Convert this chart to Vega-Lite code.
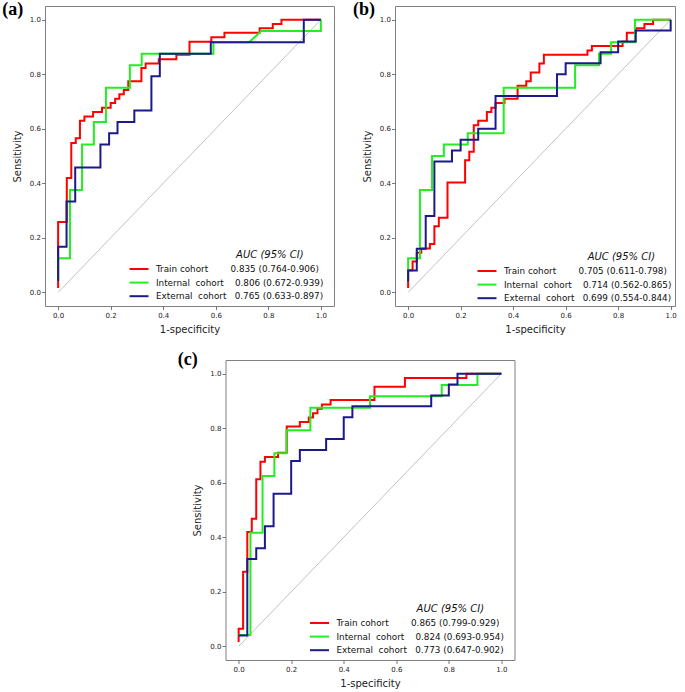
{
"$schema": "https://vega.github.io/schema/vega-lite/v6.json",
"background": "white",
"padding": {"left": 1, "top": 0, "right": 0, "bottom": 0},
"spacing": 15,
"resolve": {"scale": {"color": "independent"}, "legend": {"color": "independent"}},
"config": {
  "font": "DejaVu Sans",
  "view": {"stroke": "#808080", "strokeWidth": 1},
  "axis": {"grid": false, "domain": false, "tickColor": "#555", "tickSize": 3.5, "tickWidth": 0.8, "labelFontSize": 7, "labelColor": "#222", "titleFontSize": 10, "titleFontWeight": "normal", "titleColor": "#222", "labelPadding": 2},
  "axisX": {"titlePadding": 6},
  "axisY": {"titlePadding": 7, "labelPadding": 1},
  "legend": {"orient": "bottom-right", "offset": 5, "symbolType": "M-2,0L2,0", "symbolSize": 90, "symbolStrokeWidth": 2, "labelFontSize": 8.8, "labelColor": "#111", "labelOffset": 11, "labelLimit": 400, "rowPadding": 2.6, "titleFontSize": 10, "titleFontWeight": "normal", "titleFontStyle": "italic", "titleColor": "#111", "titleAnchor": "end", "titlePadding": 3, "titleLimit": 400}
},
"datasets": {
"diag": [{"fpr": 0, "tpr": 0}, {"fpr": 1, "tpr": 1}],
"a": [
{"cohort":"Train","step":1,"fpr":0,"tpr":0.016},{"cohort":"Train","step":2,"fpr":0,"tpr":0.258},{"cohort":"Train","step":3,"fpr":0.033,"tpr":0.258},{"cohort":"Train","step":4,"fpr":0.033,"tpr":0.419},{"cohort":"Train","step":5,"fpr":0.05,"tpr":0.419},{"cohort":"Train","step":6,"fpr":0.05,"tpr":0.548},{"cohort":"Train","step":7,"fpr":0.067,"tpr":0.548},{"cohort":"Train","step":8,"fpr":0.067,"tpr":0.565},{"cohort":"Train","step":9,"fpr":0.083,"tpr":0.565},{"cohort":"Train","step":10,"fpr":0.083,"tpr":0.629},{"cohort":"Train","step":11,"fpr":0.1,"tpr":0.629},{"cohort":"Train","step":12,"fpr":0.1,"tpr":0.645},{"cohort":"Train","step":13,"fpr":0.133,"tpr":0.645},{"cohort":"Train","step":14,"fpr":0.133,"tpr":0.661},{"cohort":"Train","step":15,"fpr":0.167,"tpr":0.661},{"cohort":"Train","step":16,"fpr":0.167,"tpr":0.677},{"cohort":"Train","step":17,"fpr":0.2,"tpr":0.677},{"cohort":"Train","step":18,"fpr":0.2,"tpr":0.694},{"cohort":"Train","step":19,"fpr":0.217,"tpr":0.694},{"cohort":"Train","step":20,"fpr":0.217,"tpr":0.71},{"cohort":"Train","step":21,"fpr":0.233,"tpr":0.71},{"cohort":"Train","step":22,"fpr":0.233,"tpr":0.726},{"cohort":"Train","step":23,"fpr":0.25,"tpr":0.726},{"cohort":"Train","step":24,"fpr":0.25,"tpr":0.742},{"cohort":"Train","step":25,"fpr":0.267,"tpr":0.742},{"cohort":"Train","step":26,"fpr":0.267,"tpr":0.774},{"cohort":"Train","step":27,"fpr":0.317,"tpr":0.774},{"cohort":"Train","step":28,"fpr":0.317,"tpr":0.823},{"cohort":"Train","step":29,"fpr":0.333,"tpr":0.823},{"cohort":"Train","step":30,"fpr":0.333,"tpr":0.839},{"cohort":"Train","step":31,"fpr":0.383,"tpr":0.839},{"cohort":"Train","step":32,"fpr":0.383,"tpr":0.855},{"cohort":"Train","step":33,"fpr":0.45,"tpr":0.855},{"cohort":"Train","step":34,"fpr":0.45,"tpr":0.871},{"cohort":"Train","step":35,"fpr":0.5,"tpr":0.871},{"cohort":"Train","step":36,"fpr":0.5,"tpr":0.919},{"cohort":"Train","step":37,"fpr":0.583,"tpr":0.919},{"cohort":"Train","step":38,"fpr":0.583,"tpr":0.935},{"cohort":"Train","step":39,"fpr":0.633,"tpr":0.935},{"cohort":"Train","step":40,"fpr":0.633,"tpr":0.952},{"cohort":"Train","step":41,"fpr":0.767,"tpr":0.952},{"cohort":"Train","step":42,"fpr":0.767,"tpr":0.968},{"cohort":"Train","step":43,"fpr":0.817,"tpr":0.968},{"cohort":"Train","step":44,"fpr":0.817,"tpr":0.984},{"cohort":"Train","step":45,"fpr":0.85,"tpr":0.984},{"cohort":"Train","step":46,"fpr":0.85,"tpr":1},{"cohort":"Train","step":47,"fpr":1,"tpr":1},
{"cohort":"Internal","step":1,"fpr":0,"tpr":0.042},{"cohort":"Internal","step":2,"fpr":0,"tpr":0.125},{"cohort":"Internal","step":3,"fpr":0.045,"tpr":0.125},{"cohort":"Internal","step":4,"fpr":0.045,"tpr":0.375},{"cohort":"Internal","step":5,"fpr":0.091,"tpr":0.375},{"cohort":"Internal","step":6,"fpr":0.091,"tpr":0.542},{"cohort":"Internal","step":7,"fpr":0.136,"tpr":0.542},{"cohort":"Internal","step":8,"fpr":0.136,"tpr":0.625},{"cohort":"Internal","step":9,"fpr":0.182,"tpr":0.625},{"cohort":"Internal","step":10,"fpr":0.182,"tpr":0.75},{"cohort":"Internal","step":11,"fpr":0.273,"tpr":0.75},{"cohort":"Internal","step":12,"fpr":0.273,"tpr":0.833},{"cohort":"Internal","step":13,"fpr":0.318,"tpr":0.833},{"cohort":"Internal","step":14,"fpr":0.318,"tpr":0.875},{"cohort":"Internal","step":15,"fpr":0.591,"tpr":0.875},{"cohort":"Internal","step":16,"fpr":0.591,"tpr":0.917},{"cohort":"Internal","step":17,"fpr":0.727,"tpr":0.917},{"cohort":"Internal","step":18,"fpr":0.773,"tpr":0.958},{"cohort":"Internal","step":19,"fpr":1,"tpr":0.958},{"cohort":"Internal","step":20,"fpr":1,"tpr":1},
{"cohort":"External","step":1,"fpr":0,"tpr":0.042},{"cohort":"External","step":2,"fpr":0,"tpr":0.167},{"cohort":"External","step":3,"fpr":0.032,"tpr":0.167},{"cohort":"External","step":4,"fpr":0.032,"tpr":0.333},{"cohort":"External","step":5,"fpr":0.065,"tpr":0.333},{"cohort":"External","step":6,"fpr":0.065,"tpr":0.458},{"cohort":"External","step":7,"fpr":0.161,"tpr":0.458},{"cohort":"External","step":8,"fpr":0.161,"tpr":0.542},{"cohort":"External","step":9,"fpr":0.194,"tpr":0.542},{"cohort":"External","step":10,"fpr":0.194,"tpr":0.583},{"cohort":"External","step":11,"fpr":0.226,"tpr":0.583},{"cohort":"External","step":12,"fpr":0.226,"tpr":0.625},{"cohort":"External","step":13,"fpr":0.29,"tpr":0.625},{"cohort":"External","step":14,"fpr":0.29,"tpr":0.667},{"cohort":"External","step":15,"fpr":0.355,"tpr":0.667},{"cohort":"External","step":16,"fpr":0.355,"tpr":0.792},{"cohort":"External","step":17,"fpr":0.387,"tpr":0.792},{"cohort":"External","step":18,"fpr":0.387,"tpr":0.875},{"cohort":"External","step":19,"fpr":0.581,"tpr":0.875},{"cohort":"External","step":20,"fpr":0.581,"tpr":0.917},{"cohort":"External","step":21,"fpr":0.935,"tpr":0.917},{"cohort":"External","step":22,"fpr":0.935,"tpr":1},{"cohort":"External","step":23,"fpr":1,"tpr":1}
],
"b": [
{"cohort":"Train","step":1,"fpr":0,"tpr":0.016},{"cohort":"Train","step":2,"fpr":0,"tpr":0.081},{"cohort":"Train","step":3,"fpr":0.017,"tpr":0.081},{"cohort":"Train","step":4,"fpr":0.017,"tpr":0.113},{"cohort":"Train","step":5,"fpr":0.033,"tpr":0.113},{"cohort":"Train","step":6,"fpr":0.033,"tpr":0.145},{"cohort":"Train","step":7,"fpr":0.05,"tpr":0.145},{"cohort":"Train","step":8,"fpr":0.05,"tpr":0.161},{"cohort":"Train","step":9,"fpr":0.083,"tpr":0.161},{"cohort":"Train","step":10,"fpr":0.083,"tpr":0.177},{"cohort":"Train","step":11,"fpr":0.1,"tpr":0.177},{"cohort":"Train","step":12,"fpr":0.1,"tpr":0.242},{"cohort":"Train","step":13,"fpr":0.117,"tpr":0.242},{"cohort":"Train","step":14,"fpr":0.117,"tpr":0.274},{"cohort":"Train","step":15,"fpr":0.15,"tpr":0.274},{"cohort":"Train","step":16,"fpr":0.15,"tpr":0.403},{"cohort":"Train","step":17,"fpr":0.217,"tpr":0.403},{"cohort":"Train","step":18,"fpr":0.217,"tpr":0.484},{"cohort":"Train","step":19,"fpr":0.233,"tpr":0.484},{"cohort":"Train","step":20,"fpr":0.233,"tpr":0.516},{"cohort":"Train","step":21,"fpr":0.25,"tpr":0.516},{"cohort":"Train","step":22,"fpr":0.25,"tpr":0.613},{"cohort":"Train","step":23,"fpr":0.267,"tpr":0.613},{"cohort":"Train","step":24,"fpr":0.267,"tpr":0.629},{"cohort":"Train","step":25,"fpr":0.3,"tpr":0.629},{"cohort":"Train","step":26,"fpr":0.3,"tpr":0.661},{"cohort":"Train","step":27,"fpr":0.317,"tpr":0.661},{"cohort":"Train","step":28,"fpr":0.317,"tpr":0.677},{"cohort":"Train","step":29,"fpr":0.333,"tpr":0.677},{"cohort":"Train","step":30,"fpr":0.333,"tpr":0.694},{"cohort":"Train","step":31,"fpr":0.367,"tpr":0.694},{"cohort":"Train","step":32,"fpr":0.367,"tpr":0.71},{"cohort":"Train","step":33,"fpr":0.417,"tpr":0.71},{"cohort":"Train","step":34,"fpr":0.417,"tpr":0.758},{"cohort":"Train","step":35,"fpr":0.45,"tpr":0.758},{"cohort":"Train","step":36,"fpr":0.45,"tpr":0.774},{"cohort":"Train","step":37,"fpr":0.467,"tpr":0.774},{"cohort":"Train","step":38,"fpr":0.467,"tpr":0.806},{"cohort":"Train","step":39,"fpr":0.5,"tpr":0.806},{"cohort":"Train","step":40,"fpr":0.5,"tpr":0.839},{"cohort":"Train","step":41,"fpr":0.517,"tpr":0.839},{"cohort":"Train","step":42,"fpr":0.517,"tpr":0.871},{"cohort":"Train","step":43,"fpr":0.683,"tpr":0.871},{"cohort":"Train","step":44,"fpr":0.683,"tpr":0.887},{"cohort":"Train","step":45,"fpr":0.7,"tpr":0.887},{"cohort":"Train","step":46,"fpr":0.7,"tpr":0.903},{"cohort":"Train","step":47,"fpr":0.817,"tpr":0.903},{"cohort":"Train","step":48,"fpr":0.817,"tpr":0.919},{"cohort":"Train","step":49,"fpr":0.833,"tpr":0.919},{"cohort":"Train","step":50,"fpr":0.833,"tpr":0.952},{"cohort":"Train","step":51,"fpr":0.867,"tpr":0.952},{"cohort":"Train","step":52,"fpr":0.867,"tpr":0.968},{"cohort":"Train","step":53,"fpr":0.9,"tpr":0.968},{"cohort":"Train","step":54,"fpr":0.9,"tpr":0.984},{"cohort":"Train","step":55,"fpr":0.933,"tpr":0.984},{"cohort":"Train","step":56,"fpr":0.933,"tpr":1},{"cohort":"Train","step":57,"fpr":1,"tpr":1},
{"cohort":"Internal","step":1,"fpr":0,"tpr":0.042},{"cohort":"Internal","step":2,"fpr":0,"tpr":0.125},{"cohort":"Internal","step":3,"fpr":0.045,"tpr":0.125},{"cohort":"Internal","step":4,"fpr":0.045,"tpr":0.375},{"cohort":"Internal","step":5,"fpr":0.091,"tpr":0.375},{"cohort":"Internal","step":6,"fpr":0.091,"tpr":0.5},{"cohort":"Internal","step":7,"fpr":0.136,"tpr":0.5},{"cohort":"Internal","step":8,"fpr":0.136,"tpr":0.542},{"cohort":"Internal","step":9,"fpr":0.227,"tpr":0.542},{"cohort":"Internal","step":10,"fpr":0.227,"tpr":0.583},{"cohort":"Internal","step":11,"fpr":0.364,"tpr":0.583},{"cohort":"Internal","step":12,"fpr":0.364,"tpr":0.75},{"cohort":"Internal","step":13,"fpr":0.636,"tpr":0.75},{"cohort":"Internal","step":14,"fpr":0.636,"tpr":0.833},{"cohort":"Internal","step":15,"fpr":0.727,"tpr":0.833},{"cohort":"Internal","step":16,"fpr":0.727,"tpr":0.875},{"cohort":"Internal","step":17,"fpr":0.773,"tpr":0.875},{"cohort":"Internal","step":18,"fpr":0.773,"tpr":0.917},{"cohort":"Internal","step":19,"fpr":0.864,"tpr":0.917},{"cohort":"Internal","step":20,"fpr":0.864,"tpr":1},{"cohort":"Internal","step":21,"fpr":1,"tpr":1},
{"cohort":"External","step":1,"fpr":0,"tpr":0.04},{"cohort":"External","step":2,"fpr":0,"tpr":0.08},{"cohort":"External","step":3,"fpr":0.033,"tpr":0.08},{"cohort":"External","step":4,"fpr":0.033,"tpr":0.16},{"cohort":"External","step":5,"fpr":0.067,"tpr":0.16},{"cohort":"External","step":6,"fpr":0.067,"tpr":0.28},{"cohort":"External","step":7,"fpr":0.1,"tpr":0.28},{"cohort":"External","step":8,"fpr":0.1,"tpr":0.48},{"cohort":"External","step":9,"fpr":0.167,"tpr":0.48},{"cohort":"External","step":10,"fpr":0.167,"tpr":0.52},{"cohort":"External","step":11,"fpr":0.2,"tpr":0.52},{"cohort":"External","step":12,"fpr":0.2,"tpr":0.56},{"cohort":"External","step":13,"fpr":0.267,"tpr":0.56},{"cohort":"External","step":14,"fpr":0.267,"tpr":0.6},{"cohort":"External","step":15,"fpr":0.333,"tpr":0.6},{"cohort":"External","step":16,"fpr":0.333,"tpr":0.72},{"cohort":"External","step":17,"fpr":0.567,"tpr":0.72},{"cohort":"External","step":18,"fpr":0.567,"tpr":0.8},{"cohort":"External","step":19,"fpr":0.6,"tpr":0.8},{"cohort":"External","step":20,"fpr":0.6,"tpr":0.84},{"cohort":"External","step":21,"fpr":0.733,"tpr":0.84},{"cohort":"External","step":22,"fpr":0.733,"tpr":0.88},{"cohort":"External","step":23,"fpr":0.8,"tpr":0.88},{"cohort":"External","step":24,"fpr":0.8,"tpr":0.92},{"cohort":"External","step":25,"fpr":0.867,"tpr":0.92},{"cohort":"External","step":26,"fpr":0.867,"tpr":0.96},{"cohort":"External","step":27,"fpr":1,"tpr":0.96},{"cohort":"External","step":28,"fpr":1,"tpr":1}
],
"c": [
{"cohort":"Train","step":1,"fpr":0,"tpr":0.016},{"cohort":"Train","step":2,"fpr":0,"tpr":0.065},{"cohort":"Train","step":3,"fpr":0.017,"tpr":0.065},{"cohort":"Train","step":4,"fpr":0.017,"tpr":0.274},{"cohort":"Train","step":5,"fpr":0.033,"tpr":0.274},{"cohort":"Train","step":6,"fpr":0.033,"tpr":0.419},{"cohort":"Train","step":7,"fpr":0.05,"tpr":0.419},{"cohort":"Train","step":8,"fpr":0.05,"tpr":0.468},{"cohort":"Train","step":9,"fpr":0.067,"tpr":0.468},{"cohort":"Train","step":10,"fpr":0.067,"tpr":0.613},{"cohort":"Train","step":11,"fpr":0.083,"tpr":0.613},{"cohort":"Train","step":12,"fpr":0.083,"tpr":0.677},{"cohort":"Train","step":13,"fpr":0.1,"tpr":0.677},{"cohort":"Train","step":14,"fpr":0.1,"tpr":0.694},{"cohort":"Train","step":15,"fpr":0.15,"tpr":0.694},{"cohort":"Train","step":16,"fpr":0.15,"tpr":0.71},{"cohort":"Train","step":17,"fpr":0.183,"tpr":0.71},{"cohort":"Train","step":18,"fpr":0.183,"tpr":0.806},{"cohort":"Train","step":19,"fpr":0.233,"tpr":0.806},{"cohort":"Train","step":20,"fpr":0.233,"tpr":0.823},{"cohort":"Train","step":21,"fpr":0.267,"tpr":0.823},{"cohort":"Train","step":22,"fpr":0.267,"tpr":0.839},{"cohort":"Train","step":23,"fpr":0.283,"tpr":0.839},{"cohort":"Train","step":24,"fpr":0.283,"tpr":0.855},{"cohort":"Train","step":25,"fpr":0.3,"tpr":0.855},{"cohort":"Train","step":26,"fpr":0.3,"tpr":0.871},{"cohort":"Train","step":27,"fpr":0.317,"tpr":0.871},{"cohort":"Train","step":28,"fpr":0.317,"tpr":0.887},{"cohort":"Train","step":29,"fpr":0.35,"tpr":0.887},{"cohort":"Train","step":30,"fpr":0.35,"tpr":0.903},{"cohort":"Train","step":31,"fpr":0.517,"tpr":0.903},{"cohort":"Train","step":32,"fpr":0.517,"tpr":0.952},{"cohort":"Train","step":33,"fpr":0.633,"tpr":0.952},{"cohort":"Train","step":34,"fpr":0.633,"tpr":0.984},{"cohort":"Train","step":35,"fpr":0.867,"tpr":0.984},{"cohort":"Train","step":36,"fpr":0.867,"tpr":1},{"cohort":"Train","step":37,"fpr":1,"tpr":1},
{"cohort":"Internal","step":1,"fpr":0,"tpr":0.042},{"cohort":"Internal","step":2,"fpr":0.045,"tpr":0.042},{"cohort":"Internal","step":3,"fpr":0.045,"tpr":0.417},{"cohort":"Internal","step":4,"fpr":0.091,"tpr":0.417},{"cohort":"Internal","step":5,"fpr":0.091,"tpr":0.625},{"cohort":"Internal","step":6,"fpr":0.136,"tpr":0.625},{"cohort":"Internal","step":7,"fpr":0.136,"tpr":0.708},{"cohort":"Internal","step":8,"fpr":0.182,"tpr":0.708},{"cohort":"Internal","step":9,"fpr":0.182,"tpr":0.792},{"cohort":"Internal","step":10,"fpr":0.273,"tpr":0.792},{"cohort":"Internal","step":11,"fpr":0.273,"tpr":0.875},{"cohort":"Internal","step":12,"fpr":0.5,"tpr":0.875},{"cohort":"Internal","step":13,"fpr":0.5,"tpr":0.917},{"cohort":"Internal","step":14,"fpr":0.773,"tpr":0.917},{"cohort":"Internal","step":15,"fpr":0.773,"tpr":0.958},{"cohort":"Internal","step":16,"fpr":0.909,"tpr":0.958},{"cohort":"Internal","step":17,"fpr":0.909,"tpr":1},{"cohort":"Internal","step":18,"fpr":1,"tpr":1},
{"cohort":"External","step":1,"fpr":0,"tpr":0.04},{"cohort":"External","step":2,"fpr":0.033,"tpr":0.04},{"cohort":"External","step":3,"fpr":0.033,"tpr":0.32},{"cohort":"External","step":4,"fpr":0.067,"tpr":0.32},{"cohort":"External","step":5,"fpr":0.067,"tpr":0.36},{"cohort":"External","step":6,"fpr":0.1,"tpr":0.36},{"cohort":"External","step":7,"fpr":0.1,"tpr":0.44},{"cohort":"External","step":8,"fpr":0.133,"tpr":0.44},{"cohort":"External","step":9,"fpr":0.133,"tpr":0.56},{"cohort":"External","step":10,"fpr":0.2,"tpr":0.56},{"cohort":"External","step":11,"fpr":0.2,"tpr":0.68},{"cohort":"External","step":12,"fpr":0.233,"tpr":0.68},{"cohort":"External","step":13,"fpr":0.233,"tpr":0.72},{"cohort":"External","step":14,"fpr":0.333,"tpr":0.72},{"cohort":"External","step":15,"fpr":0.333,"tpr":0.76},{"cohort":"External","step":16,"fpr":0.4,"tpr":0.76},{"cohort":"External","step":17,"fpr":0.4,"tpr":0.84},{"cohort":"External","step":18,"fpr":0.433,"tpr":0.84},{"cohort":"External","step":19,"fpr":0.433,"tpr":0.88},{"cohort":"External","step":20,"fpr":0.733,"tpr":0.88},{"cohort":"External","step":21,"fpr":0.733,"tpr":0.92},{"cohort":"External","step":22,"fpr":0.8,"tpr":0.92},{"cohort":"External","step":23,"fpr":0.8,"tpr":0.96},{"cohort":"External","step":24,"fpr":0.833,"tpr":0.96},{"cohort":"External","step":25,"fpr":0.833,"tpr":1},{"cohort":"External","step":26,"fpr":1,"tpr":1}
]
},
"vconcat": [
{
  "bounds": "flush",
  "spacing": 61,
  "resolve": {"scale": {"color": "independent"}, "legend": {"color": "independent"}},
  "hconcat": [
    {
      "width": 289, "height": 300,
      "layer": [
        {
          "encoding": {
            "x": {"field": "fpr", "type": "quantitative", "scale": {"domain": [-0.05, 1.05], "nice": false, "zero": false}, "axis": {"values": [0, 0.2, 0.4, 0.6, 0.8, 1], "format": ".1f", "title": "1-specificity"}},
            "y": {"field": "tpr", "type": "quantitative", "scale": {"domain": [-0.05, 1.05], "nice": false, "zero": false}, "axis": {"values": [0, 0.2, 0.4, 0.6, 0.8, 1], "format": ".1f", "title": "Sensitivity"}}
          },
          "layer": [
            {"data": {"name": "diag"}, "mark": {"type": "line", "color": "#999999", "strokeWidth": 0.6}, "encoding": {}},
            {"data": {"name": "a"}, "transform": [{"filter": "datum.cohort == 'Train'"}], "mark": {"type": "line", "strokeWidth": 2}, "encoding": {"order": {"field": "step", "type": "quantitative"}, "color": {"field": "cohort", "type": "nominal", "scale": {"domain": ["Train", "Internal", "External"], "range": ["#ff0000", "#22ee22", "#1a1a8a"]}, "legend": {"title": "AUC (95% CI)\u00a0\u00a0\u00a0\u00a0\u00a0\u00a0\u00a0\u00a0\u200b", "labelExpr": "datum.label == 'Train' ? 'Train\u00a0cohort\u00a0\u00a0\u00a0\u00a0\u00a0\u00a0\u00a0\u00a00.835\u00a0(0.764-0.906)\u00a0\u00a0\u200b' : datum.label == 'Internal' ? 'Internal\u00a0\u00a0cohort\u00a0\u00a0\u00a0\u00a00.806\u00a0(0.672-0.939)\u00a0\u00a0\u200b' : 'External\u00a0\u00a0cohort\u00a0\u00a0\u00a00.765\u00a0(0.633-0.897)\u00a0\u00a0\u200b'"}}}},
            {"data": {"name": "a"}, "transform": [{"filter": "datum.cohort == 'Internal'"}], "mark": {"type": "line", "strokeWidth": 2}, "encoding": {"order": {"field": "step", "type": "quantitative"}, "color": {"field": "cohort", "type": "nominal"}}},
            {"data": {"name": "a"}, "transform": [{"filter": "datum.cohort == 'External'"}], "mark": {"type": "line", "strokeWidth": 2}, "encoding": {"order": {"field": "step", "type": "quantitative"}, "color": {"field": "cohort", "type": "nominal"}}}
          ]
        },
        {"data": {"values": [{"label": "(a)"}]}, "mark": {"type": "text", "font": "Liberation Serif", "fontWeight": "bold", "fontSize": 18, "align": "left", "baseline": "alphabetic", "color": "#000"}, "encoding": {"text": {"field": "label", "type": "nominal"}, "x": {"datum": -0.213, "type": "quantitative"}, "y": {"datum": 1.017, "type": "quantitative"}}}
      ]
    },
    {
      "width": 280, "height": 300,
      "layer": [
        {
          "encoding": {
            "x": {"field": "fpr", "type": "quantitative", "scale": {"domain": [-0.05, 1.0165], "nice": false, "zero": false}, "axis": {"values": [0, 0.2, 0.4, 0.6, 0.8, 1], "format": ".1f", "title": "1-specificity"}},
            "y": {"field": "tpr", "type": "quantitative", "scale": {"domain": [-0.05, 1.05], "nice": false, "zero": false}, "axis": {"values": [0, 0.2, 0.4, 0.6, 0.8, 1], "format": ".1f", "title": "Sensitivity"}}
          },
          "layer": [
            {"data": {"name": "diag"}, "mark": {"type": "line", "color": "#999999", "strokeWidth": 0.6}, "encoding": {}},
            {"data": {"name": "b"}, "transform": [{"filter": "datum.cohort == 'Train'"}], "mark": {"type": "line", "strokeWidth": 2}, "encoding": {"order": {"field": "step", "type": "quantitative"}, "color": {"field": "cohort", "type": "nominal", "scale": {"domain": ["Train", "Internal", "External"], "range": ["#ff0000", "#22ee22", "#1a1a8a"]}, "legend": {"offset": 3, "title": "AUC (95% CI)\u00a0\u00a0\u00a0\u00a0\u00a0\u200b", "labelExpr": "datum.label == 'Train' ? 'Train\u00a0cohort\u00a0\u00a0\u00a0\u00a0\u00a0\u00a0\u00a0\u00a00.705\u00a0(0.611-0.798)' : datum.label == 'Internal' ? 'Internal\u00a0\u00a0cohort\u00a0\u00a0\u00a0\u00a00.714\u00a0(0.562-0.865)' : 'External\u00a0\u00a0cohort\u00a0\u00a0\u00a00.699\u00a0(0.554-0.844)'"}}}},
            {"data": {"name": "b"}, "transform": [{"filter": "datum.cohort == 'Internal'"}], "mark": {"type": "line", "strokeWidth": 2}, "encoding": {"order": {"field": "step", "type": "quantitative"}, "color": {"field": "cohort", "type": "nominal"}}},
            {"data": {"name": "b"}, "transform": [{"filter": "datum.cohort == 'External'"}], "mark": {"type": "line", "strokeWidth": 2}, "encoding": {"order": {"field": "step", "type": "quantitative"}, "color": {"field": "cohort", "type": "nominal"}}}
          ]
        },
        {"data": {"values": [{"label": "(b)"}]}, "mark": {"type": "text", "font": "Liberation Serif", "fontWeight": "bold", "fontSize": 18, "align": "left", "baseline": "alphabetic", "color": "#000"}, "encoding": {"text": {"field": "label", "type": "nominal"}, "x": {"datum": -0.21, "type": "quantitative"}, "y": {"datum": 1.017, "type": "quantitative"}}}
      ]
    }
  ]
},
{
  "bounds": "flush",
  "spacing": 10.5,
  "resolve": {"scale": {"color": "independent"}, "legend": {"color": "independent"}},
  "hconcat": [
    {"width": 170, "height": 300, "view": {"stroke": null}, "data": {"values": [{}]}, "mark": {"type": "point", "opacity": 0}},
    {
      "width": 289, "height": 300,
      "layer": [
        {
          "encoding": {
            "x": {"field": "fpr", "type": "quantitative", "scale": {"domain": [-0.05, 1.05], "nice": false, "zero": false}, "axis": {"values": [0, 0.2, 0.4, 0.6, 0.8, 1], "format": ".1f", "title": "1-specificity"}},
            "y": {"field": "tpr", "type": "quantitative", "scale": {"domain": [-0.05, 1.05], "nice": false, "zero": false}, "axis": {"values": [0, 0.2, 0.4, 0.6, 0.8, 1], "format": ".1f", "title": "Sensitivity"}}
          },
          "layer": [
            {"data": {"name": "diag"}, "mark": {"type": "line", "color": "#999999", "strokeWidth": 0.6}, "encoding": {}},
            {"data": {"name": "c"}, "transform": [{"filter": "datum.cohort == 'Train'"}], "mark": {"type": "line", "strokeWidth": 2}, "encoding": {"order": {"field": "step", "type": "quantitative"}, "color": {"field": "cohort", "type": "nominal", "scale": {"domain": ["Train", "Internal", "External"], "range": ["#ff0000", "#22ee22", "#1a1a8a"]}, "legend": {"title": "AUC (95% CI)\u00a0\u00a0\u00a0\u00a0\u00a0\u00a0\u00a0\u00a0\u200b", "labelExpr": "datum.label == 'Train' ? 'Train\u00a0cohort\u00a0\u00a0\u00a0\u00a0\u00a0\u00a0\u00a0\u00a00.865\u00a0(0.799-0.929)\u00a0\u00a0\u200b' : datum.label == 'Internal' ? 'Internal\u00a0\u00a0cohort\u00a0\u00a0\u00a0\u00a00.824\u00a0(0.693-0.954)\u00a0\u00a0\u200b' : 'External\u00a0\u00a0cohort\u00a0\u00a0\u00a00.773\u00a0(0.647-0.902)\u00a0\u00a0\u200b'"}}}},
            {"data": {"name": "c"}, "transform": [{"filter": "datum.cohort == 'Internal'"}], "mark": {"type": "line", "strokeWidth": 2}, "encoding": {"order": {"field": "step", "type": "quantitative"}, "color": {"field": "cohort", "type": "nominal"}}},
            {"data": {"name": "c"}, "transform": [{"filter": "datum.cohort == 'External'"}], "mark": {"type": "line", "strokeWidth": 2}, "encoding": {"order": {"field": "step", "type": "quantitative"}, "color": {"field": "cohort", "type": "nominal"}}}
          ]
        },
        {"data": {"values": [{"label": "(c)"}]}, "mark": {"type": "text", "font": "Liberation Serif", "fontWeight": "bold", "fontSize": 18, "align": "left", "baseline": "alphabetic", "color": "#000"}, "encoding": {"text": {"field": "label", "type": "nominal"}, "x": {"datum": -0.232, "type": "quantitative"}, "y": {"datum": 1.03, "type": "quantitative"}}}
      ]
    }
  ]
}
]
}
